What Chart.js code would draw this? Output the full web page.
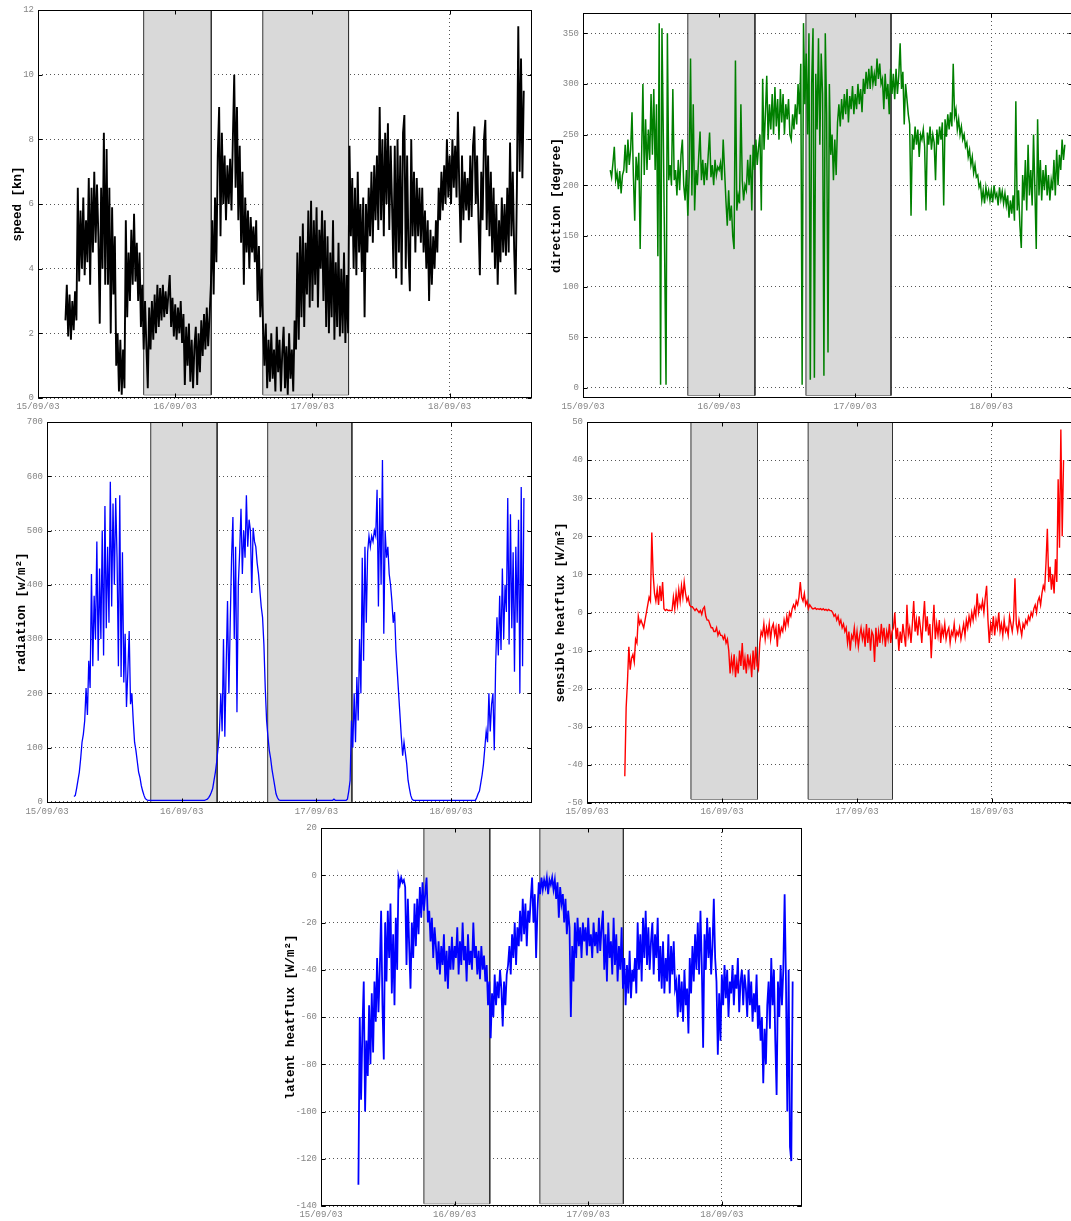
<!DOCTYPE html>
<html><head><meta charset="utf-8">
<script src="https://cdn.jsdelivr.net/npm/chart.js@4/dist/chart.umd.min.js"></script>
<style>
html,body{margin:0;padding:0;background:#fff;overflow:hidden;width:1071px;height:1221px;position:relative}
canvas{position:absolute}
</style></head><body>
<canvas id="c1" width="540" height="415" style="left:0;top:0"></canvas>
<canvas id="c2" width="540" height="415" style="left:540px;top:0"></canvas>
<canvas id="c3" width="540" height="408" style="left:0;top:412px"></canvas>
<canvas id="c4" width="540" height="408" style="left:540px;top:412px"></canvas>
<canvas id="c5" width="540" height="403" style="left:270px;top:818px"></canvas>
<script>
// time axis (days of September 2003)
const dayTicks = [15, 16, 17, 18];
const dayLabels = ['15/09/03', '16/09/03', '17/09/03', '18/09/03'];
// shaded (night) periods
const nightStart = [15.77, 16.638];
const nightEnd = [16.263, 17.263];
// sampling
const windStart = 15.20;
const fluxStart = 15.28;
const sampleStep = 0.01;

const speed = [
 2.4,3.5,1.9,3.2,1.8,3.0,2.1,3.3,2.4,6.5,
 3.6,5.8,4.0,6.2,3.8,5.5,4.2,6.8,3.5,6.5,
 4.5,7.0,4.8,6.6,5.0,2.3,6.5,4.0,8.2,3.5,
 7.7,3.5,6.5,2.0,5.9,3.2,5.0,1.0,2.0,0.2,
 1.8,0.1,1.5,0.3,5.5,2.5,4.5,3.0,5.2,3.5,
 5.7,3.6,4.8,3.0,4.5,2.2,3.5,1.5,3.0,1.6,
 0.3,2.8,1.5,3.0,1.8,3.2,2.0,3.5,2.2,3.4,
 2.4,3.5,2.5,3.3,2.6,3.2,3.8,2.2,3.1,1.9,
 2.9,1.8,2.8,2.0,3.0,1.7,2.6,0.4,2.2,1.0,
 2.3,0.5,1.8,0.3,1.6,2.2,0.4,2.0,0.8,2.4,
 1.3,2.6,1.5,2.8,1.6,2.5,3.5,5.5,3.2,6.2,
 4.2,7.5,9.0,5.0,8.2,6.0,7.5,5.5,7.2,6.0,
 7.4,5.8,8.0,10.0,6.5,9.0,5.5,7.8,4.8,7.0,
 3.5,6.2,4.5,5.8,4.0,5.6,4.5,5.3,4.2,5.5,
 3.0,4.7,2.5,4.0,2.2,1.0,2.3,0.3,1.8,0.5,
 2.0,0.6,1.5,0.2,2.2,0.8,1.8,0.2,1.4,2.2,
 0.3,1.6,0.1,2.0,0.6,1.5,0.2,2.4,1.5,4.5,
 1.8,5.0,2.5,5.4,2.2,4.8,3.2,5.8,2.8,6.1,
 3.0,5.5,3.5,5.9,2.8,5.2,4.0,5.8,3.0,5.5,
 2.2,5.0,2.0,4.5,2.5,5.5,1.8,4.2,2.2,4.8,
 1.9,4.0,2.0,4.5,1.7,3.8,2.0,7.8,5.0,6.8,
 4.0,6.5,3.8,7.0,4.5,6.0,3.9,6.2,2.5,6.0,
 4.5,6.5,5.0,7.0,4.8,7.2,5.5,7.5,5.2,9.0,
 5.5,8.0,5.0,8.2,6.0,8.5,5.2,7.8,6.0,4.0,
 7.8,3.7,8.0,4.5,7.5,3.5,8.2,8.75,4.0,7.5,
 4.5,3.3,8.0,5.0,7.0,4.5,6.8,5.0,6.5,4.8,
 6.5,4.5,5.8,4.0,5.5,3.0,5.2,3.5,5.0,4.0,
 5.5,4.5,6.5,5.5,7.0,5.8,7.2,6.0,8.0,6.2,
 7.5,6.0,8.0,6.5,7.8,6.2,8.85,6.5,4.8,7.5,
 5.5,7.0,5.8,6.8,5.5,7.5,5.6,7.8,8.4,6.0,
 7.5,5.5,3.8,7.0,5.5,8.0,8.6,5.2,7.5,5.0,
 7.0,4.5,6.5,4.0,6.0,3.5,5.5,4.2,6.2,4.5,
 6.0,4.4,6.5,4.5,7.9,5.0,7.0,4.6,3.2,6.5,
 11.5,7.0,10.5,6.8,9.5
];
const direction = [
 215,208,222,238,205,212,196,214,192,210,
 215,240,212,245,220,235,272,210,165,228,
 205,232,137,225,300,210,265,215,255,225,
 290,230,295,215,280,130,360,3,355,250,
 130,3,350,205,220,200,295,205,215,190,
 225,195,230,245,200,185,215,170,210,325,
 190,280,175,215,200,228,253,205,225,200,
 222,205,230,252,208,220,200,225,210,218,
 215,222,205,245,215,185,160,195,165,180,
 150,137,323,175,190,182,280,205,185,200,
 195,225,200,230,175,240,215,245,220,238,
 250,175,305,235,270,308,245,280,255,290,
 250,297,258,285,245,295,262,290,250,280,
 265,285,250,245,270,255,280,260,300,270,
 320,3,360,280,330,250,350,8,300,355,
 10,310,255,345,240,330,290,12,350,270,
 35,300,230,250,205,245,210,262,280,258,
 285,265,290,270,295,262,288,275,298,270,
 290,275,300,280,295,272,305,290,312,295,
 315,295,318,300,310,298,325,305,320,300,
 305,275,310,285,300,270,315,290,310,285,
 315,290,308,340,295,312,260,300,285,270,
 260,170,250,235,258,240,255,228,250,245,
 255,238,175,252,240,258,235,250,242,205,
 255,240,258,245,262,180,265,248,270,255,
 272,258,320,268,275,255,265,250,258,245,
 250,238,242,228,235,220,228,212,220,208,
 210,198,202,185,195,182,198,188,195,185,
 195,183,200,188,192,180,198,186,194,182,
 192,180,190,168,185,172,190,165,283,175,
 195,160,138,210,185,225,175,240,190,215,
 180,250,195,137,265,190,225,185,215,195,
 220,190,210,185,205,195,225,190,235,200,
 230,215,245,225,240
];
const radiation = [
 10,12,25,40,55,80,110,125,150,210,
 160,260,210,420,250,380,300,480,260,430,
 300,500,270,545,320,470,330,590,360,550,
 400,560,450,250,565,230,460,220,310,175,
 240,315,180,200,150,110,95,75,55,45,
 30,20,12,6,4,3,3,3,3,3,
 3,3,3,3,3,3,3,3,3,3,
 3,3,3,3,3,3,3,3,3,3,
 3,3,3,3,3,3,3,3,3,3,
 3,3,3,3,3,3,3,3,4,5,
 8,12,18,25,40,55,75,100,130,200,
 130,300,120,250,370,200,330,450,525,300,
 470,165,400,460,540,420,500,450,565,470,
 520,500,385,505,480,470,440,420,390,360,
 340,290,210,150,120,95,80,60,45,30,
 15,8,4,3,3,3,3,3,3,3,
 3,3,3,3,3,3,3,3,3,3,
 3,3,3,3,3,3,3,3,3,3,
 3,3,3,3,3,3,3,3,3,3,
 3,3,3,5,3,3,3,3,3,3,
 3,3,3,5,20,40,150,100,200,110,
 230,150,300,200,450,260,470,330,460,490,
 470,490,480,500,490,575,360,560,400,630,
 310,500,450,470,420,400,370,330,350,280,
 240,200,160,120,85,110,90,70,40,25,
 12,5,3,3,3,3,3,3,3,3,
 3,3,3,3,3,3,3,3,3,3,
 3,3,3,3,3,3,3,3,3,3,
 3,3,3,3,3,3,3,3,3,3,
 3,3,3,3,3,3,3,3,3,8,
 15,20,35,50,70,100,130,110,200,130,
 180,200,95,250,340,270,380,280,430,300,
 400,350,560,290,530,320,460,240,470,330,
 520,200,580,250,560
];
const sensible = [
 -43,-25,-18,-9,-15,-12,-11,-13,-7,-8,
 -1,-3,-2,-3,-4,-2,0,2,4,3,
 21,10,5,3,6,2,7,3,8,1,
 0.5,0.8,0.5,0.6,0.5,0.5,4,1,5,2,
 6,3,7,4,8,5,3,4,2,1.5,
 1.5,1,0.5,1,0.5,0,0.5,-0.5,1,1.5,
 -1,-2,-2,-3,-4,-4,-5,-5,-4,-6,
 -5,-6,-6,-7,-6,-8,-7,-10,-16,-12,
 -15,-11,-17,-13,-16,-10,-14,-8,-15,-12,
 -16,-11,-14,-12,-17,-10,-15,-9,-14,-15,
 -8,-5,-6,-3,-7,-4,-6,-3,-7,-4,
 -3,-6,-4,-9,-3,-6,-4,-5,-2,-4,
 -1,-3,0,-1,1,2,1,3,2,4,
 8,4,3,5,2,3,1,2,1.5,1,
 1,1.2,0.8,1,0.8,1,0.7,1,0.6,0.8,
 0.5,0.8,0.5,0.5,0,-1,-0.5,-2,-1,-3,
 -2,-4,-3,-5,-4,-8,-5,-10,-6,-7,
 -4,-8,-5,-9,-6,-4,-7,-5,-9,-3,
 -8,-4,-10,-5,-6,-13,-4,-9,-5,-8,
 -3,-7,-4,-9,-5,-7,-3,-8,-5,-4,
 0,-7,-4,-10,-5,-8,-3,-6,-9,2,
 -6,-4,-8,-3,3,-5,-2,-6,-1,-4,
 -8,-2,3,-5,-1,-6,-3,-12,-4,2,
 -7,-3,-6,-2,-8,-4,-6,-3,-7,-5,
 -4,-8,-5,-6,-3,-7,-5,-6,-4,-7,
 -5,-3,-6,-2,-4,-1,-3,0,-2,1,
 -1,5,0,2,1,3,0,4,7,-2,
 -8,-3,-5,-1,-6,-2,-4,0,-5,-3,
 -6,-2,-5,-4,-6,-1,-3,-5,-2,9,
 -3,-5,-2,-4,-6,-3,-4,-2,-3,-1,
 -2,0,-1,1,2,0,3,4,2,5,
 7,6,13,22,8,12,6,10,5,14,
 8,35,17,48,20,40
];
const latent = [
 -131,-60,-95,-65,-45,-100,-70,-85,-55,-80,
 -50,-75,-45,-62,-35,-58,-40,-15,-55,-78,
 -20,-45,-15,-35,-12,-50,-25,-55,-18,-40,
 -1,-4,-1,-3,-2,-5,-38,-10,-30,-48,
 -20,-35,-12,-30,-10,-25,-5,-18,-3,-15,
 -8,-1,-20,-15,-28,-18,-35,-22,-30,-40,
 -28,-42,-30,-38,-25,-45,-32,-48,-30,-40,
 -26,-40,-30,-35,-22,-42,-28,-38,-20,-36,
 -30,-45,-25,-38,-32,-40,-20,-35,-30,-42,
 -32,-44,-30,-40,-34,-45,-38,-55,-45,-69,
 -50,-60,-42,-55,-45,-52,-40,-48,-64,-45,
 -55,-42,-38,-30,-42,-25,-35,-20,-38,-22,
 -30,-15,-28,-10,-25,-12,-30,-15,-20,-10,
 -1,-20,-8,-35,-15,-3,-8,-1,-6,-2,
 -5,-1,-8,-2,-4,-1,-6,-2,-10,-3,
 -18,-5,-12,-8,-20,-10,-25,-15,-22,-60,
 -30,-45,-20,-35,-18,-30,-22,-35,-20,-28,
 -22,-34,-18,-30,-25,-35,-20,-30,-24,-33,
 -18,-32,-22,-15,-40,-25,-45,-20,-35,-28,
 -42,-18,-38,-25,-45,-30,-40,-22,-48,-35,
 -55,-38,-50,-32,-52,-40,-45,-35,-50,-20,
 -40,-25,-45,-18,-35,-15,-38,-22,-40,-28,
 -20,-42,-25,-35,-18,-45,-30,-48,-28,-50,
 -35,-45,-25,-50,-30,-42,-28,-48,-45,-60,
 -42,-58,-45,-62,-40,-55,-48,-67,-35,-50,
 -30,-45,-25,-40,-20,-42,-15,-38,-73,-25,
 -40,-18,-35,-22,-42,-30,-10,-35,-45,-76,
 -50,-70,-42,-55,-38,-52,-40,-60,-45,-50,
 -38,-55,-42,-48,-35,-58,-45,-40,-55,-42,
 -48,-60,-40,-55,-45,-62,-50,-58,-42,-65,
 -55,-70,-60,-88,-65,-80,-55,-45,-65,-35,
 -55,-40,-70,-93,-45,-60,-38,-55,-40,-8,
 -45,-100,-40,-115,-121,-45
];

const speedTicks = [0, 2, 4, 6, 8, 10, 12];
const directionTicks = [0, 50, 100, 150, 200, 250, 300, 350];
const radiationTicks = [0, 100, 200, 300, 400, 500, 600, 700];
const sensibleTicks = [-50, -40, -30, -20, -10, 0, 10, 20, 30, 40, 50];
const latentTicks = [-140, -120, -100, -80, -60, -40, -20, 0, 20];

const MONO = '"Liberation Mono", "Courier New", "DejaVu Sans Mono", monospace';

const framePlugin = {
  id: 'frame',
  afterDraw(chart) {
    const {ctx, chartArea: a, scales} = chart;
    const L = Math.round(a.left) + 0.5, R = Math.round(a.right) - 0.5;
    const T = Math.round(a.top) + 0.5, B = Math.round(a.bottom) - 0.5;
    ctx.save();
    ctx.strokeStyle = '#000';
    ctx.lineWidth = 1;
    ctx.strokeRect(L, T, R - L, B - T);
    ctx.beginPath();
    scales.y.ticks.forEach(t => {
      const p = Math.round(scales.y.getPixelForValue(t.value)) + 0.5;
      ctx.moveTo(L, p); ctx.lineTo(L + 4, p);
      ctx.moveTo(R, p); ctx.lineTo(R - 4, p);
    });
    scales.x.ticks.forEach(t => {
      const p = Math.round(scales.x.getPixelForValue(t.value)) + 0.5;
      ctx.moveTo(p, B); ctx.lineTo(p, B - 4);
      ctx.moveTo(p, T); ctx.lineTo(p, T + 4);
    });
    ctx.stroke();
    ctx.restore();
  }
};

function buildChart(id, cfg) {
  const pts = cfg.values.map((v, i) => ({x: cfg.start + i * sampleStep, y: v}));
  const top = cfg.yMax, b = cfg.boxBottom;
  const boxFill = [], boxEdge = [];
  nightStart.forEach((s, k) => {
    const e = nightEnd[k];
    if (k > 0) {
      const gap = (nightEnd[k - 1] + s) / 2;
      boxFill.push({x: gap, y: null});
      boxEdge.push({x: gap, y: null});
    }
    boxFill.push({x: s, y: b}, {x: s, y: top}, {x: e, y: top}, {x: e, y: b});
    boxEdge.push({x: s, y: b}, {x: e, y: b});
  });
  new Chart(document.getElementById(id), {
    type: 'line',
    data: {datasets: [
      {data: pts, borderColor: cfg.color, borderWidth: cfg.lineW, pointRadius: 0, fill: false, order: 0, tension: 0},
      {data: boxFill, borderColor: '#333', backgroundColor: '#d9d9d9', borderWidth: 1, pointRadius: 0, fill: {value: b}, order: 1, spanGaps: false},
      {data: boxEdge, borderColor: '#333', borderWidth: 1, pointRadius: 0, fill: false, order: 1, spanGaps: false}
    ]},
    options: {
      responsive: false, animation: false, events: [],
      layout: {padding: {top: cfg.padTop, right: cfg.padRight, left: 0, bottom: 0}},
      plugins: {legend: {display: false}, tooltip: {enabled: false}},
      scales: {
        x: {
          type: 'linear', min: 15, max: 18.6,
          afterFit(s) { s.height = cfg.axisH; },
          afterBuildTicks(s) { s.ticks = dayTicks.map(v => ({value: v})); },
          ticks: {
            autoSkip: false, maxRotation: 0, padding: 3, color: '#858585',
            font: {family: MONO, size: 9},
            callback: v => { const k = dayTicks.indexOf(v); return k < 0 ? '' : dayLabels[k]; }
          },
          grid: {color: '#555', drawTicks: false},
          border: {display: false, dash: [1, 3]}
        },
        y: {
          type: 'linear', min: cfg.yMin, max: cfg.yMax,
          afterFit(s) { s.width = cfg.axisW; },
          afterBuildTicks(s) { s.ticks = cfg.yTicks.map(v => ({value: v})); },
          ticks: {padding: 4, color: '#858585', font: {family: MONO, size: 9}},
          grid: {color: '#555', drawTicks: false},
          border: {display: false, dash: [1, 3]},
          title: {display: true, text: cfg.title, color: '#000',
                  font: {family: MONO, size: 12.5, weight: 'bold'},
                  padding: {top: cfg.titlePad, bottom: 0}}
        }
      }
    },
    plugins: [framePlugin]
  });
}

buildChart('c1', {values: speed, start: windStart, color: '#000000', lineW: 1.9, yMin: 0, yMax: 12, yTicks: speedTicks,
  boxBottom: 0.1, title: 'speed [kn]', padTop: 10, padRight: 8, axisW: 38, axisH: 17, titlePad: 10});
buildChart('c2', {values: direction, start: windStart, color: '#008000', lineW: 1.5, yMin: -10, yMax: 370, yTicks: directionTicks,
  boxBottom: -7.5, title: 'direction [degree]', padTop: 13, padRight: 7, axisW: 43, axisH: 17, titlePad: 9});
buildChart('c3', {values: radiation, start: windStart, color: '#0000ff', lineW: 1.3, yMin: -2, yMax: 700, yTicks: radiationTicks,
  boxBottom: 0, title: 'radiation [w/m\u00b2]', padTop: 10, padRight: 8, axisW: 47, axisH: 17, titlePad: 14});
buildChart('c4', {values: sensible, start: fluxStart, color: '#ff0000', lineW: 1.4, yMin: -50, yMax: 50, yTicks: sensibleTicks,
  boxBottom: -49, title: 'sensible heatflux [W/m\u00b2]', padTop: 10, padRight: 7, axisW: 47, axisH: 17, titlePad: 13});
buildChart('c5', {values: latent, start: fluxStart, color: '#0000ff', lineW: 1.8, yMin: -140, yMax: 20, yTicks: latentTicks,
  boxBottom: -139, title: 'latent heatflux [W/m\u00b2]', padTop: 10, padRight: 8, axisW: 51, axisH: 15, titlePad: 13});
</script>
</body></html>
